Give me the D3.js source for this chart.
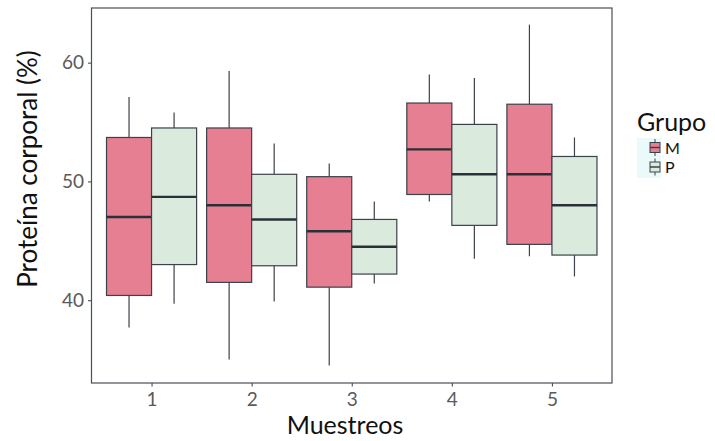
<!DOCTYPE html>
<html>
<head>
<meta charset="utf-8">
<script src="https://cdn.jsdelivr.net/npm/d3@7"></script>
<style>
  html, body { margin: 0; padding: 0; background: #fff; }
  svg { display: block; font-family: Lato, "Open Sans", sans-serif; }
</style>
</head>
<body>
<svg id="chart" width="715" height="441"></svg>
<script>
// Sampling rounds and groups
const muestreos = ["1", "2", "3", "4", "5"];
const grupos = ["M", "P"];
const yTicks = [40, 50, 60];

// Box summaries per group, one entry per sampling round: [low whisker, Q1, median, Q3, high whisker]
const statsM = [
  [37.7, 40.4, 47.0, 53.7, 57.1],
  [35.0, 41.5, 48.0, 54.5, 59.3],
  [34.5, 41.1, 45.8, 50.4, 51.5],
  [48.3, 48.9, 52.7, 56.6, 59.0],
  [43.7, 44.7, 50.6, 56.5, 63.2]
];
const statsP = [
  [39.7, 43.0, 48.7, 54.5, 55.8],
  [39.9, 42.9, 46.8, 50.6, 53.2],
  [41.4, 42.2, 44.5, 46.8, 48.3],
  [43.5, 46.3, 50.6, 54.8, 58.7],
  [42.0, 43.8, 48.0, 52.1, 53.7]
];

const colors = { M: "#E57F91", P: "#DAEBDE" };
const stroke = "#3C4249";

const svg = d3.select("#chart");
const x0 = 91.5, x1 = 612, y0 = 8, y1 = 383;

// Discrete axis with 0.6 category padding on each side
const x = d3.scaleLinear().domain([0.4, 5.6]).range([x0, x1]);
const y = d3.scaleLinear().domain([33.03, 64.6]).range([y1, y0]);
const dodge = d3.scaleBand().domain(grupos).range([-0.45, 0.45]);

// Boxes
const data = [];
muestreos.forEach((m, i) => {
  data.push({ m: i + 1, g: "M", s: statsM[i] });
  data.push({ m: i + 1, g: "P", s: statsP[i] });
});

const g = svg.append("g");
data.forEach(d => {
  const left = x(d.m + dodge(d.g));
  const right = x(d.m + dodge(d.g) + dodge.bandwidth());
  const cx = (left + right) / 2;
  const [lo, q1, med, q3, hi] = d.s;
  // whiskers
  g.append("line").attr("x1", cx).attr("x2", cx).attr("y1", y(hi)).attr("y2", y(q3))
    .attr("stroke", stroke).attr("stroke-width", 1.2);
  g.append("line").attr("x1", cx).attr("x2", cx).attr("y1", y(q1)).attr("y2", y(lo))
    .attr("stroke", stroke).attr("stroke-width", 1.2);
  // box
  g.append("rect").attr("x", left).attr("y", y(q3)).attr("width", right - left)
    .attr("height", y(q1) - y(q3)).attr("fill", colors[d.g])
    .attr("stroke", stroke).attr("stroke-width", 1.2);
  // median
  g.append("line").attr("x1", left).attr("x2", right).attr("y1", y(med)).attr("y2", y(med))
    .attr("stroke", "#2A3038").attr("stroke-width", 2.4);
});

// Panel border
svg.append("rect").attr("x", x0).attr("y", y0).attr("width", x1 - x0).attr("height", y1 - y0)
  .attr("fill", "none").attr("stroke", "#4A4F55").attr("stroke-width", 1.2);

// Y axis
const yAxis = svg.append("g").attr("transform", `translate(${x0},0)`)
  .call(d3.axisLeft(y).tickValues(yTicks).tickSize(3.5).tickPadding(4));
yAxis.select(".domain").remove();
yAxis.selectAll(".tick line").attr("stroke", "#4A4F55").attr("stroke-width", 1.1);
yAxis.selectAll(".tick text").attr("fill", "#5A5A5A").style("font-size", "19px")
  .style("font-family", "Lato, sans-serif");

// X axis
const xAxis = svg.append("g").attr("transform", `translate(0,${y1})`)
  .call(d3.axisBottom(x).tickValues(muestreos.map(Number)).tickFormat((d, i) => muestreos[i])
    .tickSize(3.5).tickPadding(6));
xAxis.select(".domain").remove();
xAxis.selectAll(".tick line").attr("stroke", "#4A4F55").attr("stroke-width", 1.1);
xAxis.selectAll(".tick text").attr("fill", "#5A5A5A").style("font-size", "19px")
  .style("font-family", "Lato, sans-serif");

// Axis titles
svg.append("text").attr("x", 345).attr("y", 434).attr("text-anchor", "middle")
  .attr("fill", "#111").style("font-size", "25px").text("Muestreos");
svg.append("text").attr("transform", "translate(37,169) rotate(-90)")
  .attr("text-anchor", "middle").attr("fill", "#111").style("font-size", "26px")
  .text("Proteína corporal (%)");

// Legend
const lg = svg.append("g");
lg.append("text").attr("x", 637).attr("y", 131).attr("fill", "#111")
  .style("font-size", "25px").text("Grupo");
lg.append("rect").attr("x", 637).attr("y", 138).attr("width", 24).attr("height", 40)
  .attr("fill", "#EAFAFA");
grupos.forEach((k, i) => {
  const cy = 147.5 + i * 19.5;
  lg.append("line").attr("x1", 655).attr("x2", 655).attr("y1", cy - 8.5).attr("y2", cy + 8.5)
    .attr("stroke", stroke).attr("stroke-width", 1);
  lg.append("rect").attr("x", 650).attr("y", cy - 5).attr("width", 10).attr("height", 10)
    .attr("fill", colors[k]).attr("stroke", stroke).attr("stroke-width", 1);
  lg.append("line").attr("x1", 650).attr("x2", 660).attr("y1", cy).attr("y2", cy)
    .attr("stroke", stroke).attr("stroke-width", 1.5);
  lg.append("text").attr("x", 665).attr("y", cy + 6).attr("fill", "#111")
    .style("font-size", "16px").text(k);
});
</script>
</body>
</html>
